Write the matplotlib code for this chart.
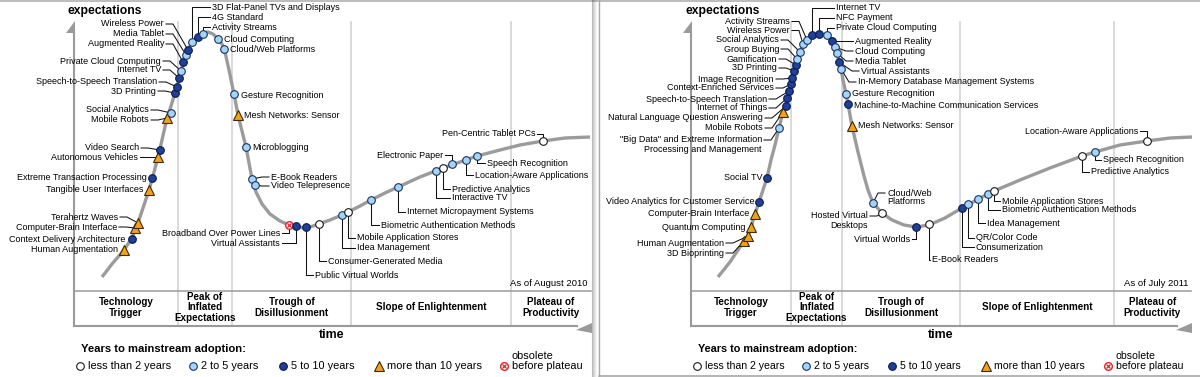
import matplotlib
matplotlib.use("Agg")
import matplotlib.pyplot as plt
from matplotlib.patches import Polygon

plt.rcParams['font.family'] = ['Liberation Sans', 'DejaVu Sans']

# ------------------------------------------------------------------ DATA
phase_names = ["Technology\nTrigger", "Peak of\nInflated\nExpectations",
               "Trough of\nDisillusionment", "Slope of Enlightenment",
               "Plateau of\nProductivity"]
legend_title = "Years to mainstream adoption:"
legend_labels = ["less than 2 years", "2 to 5 years", "5 to 10 years",
                 "more than 10 years", "before plateau"]
legend_cats = ['w', 'l', 'd', 't', 'x']

# ---- Hype Cycle 2010 (left)
h10_curve_x = [102, 112, 124, 132, 138, 144, 149, 153, 158, 162, 167, 171, 175, 179,
               183, 187, 192, 198, 203, 208, 213, 218, 222, 225, 229, 234, 238, 242,
               246, 249, 252, 256, 262, 270, 280, 289, 297, 306, 313, 319, 330, 342,
               348, 360, 371, 385, 398, 420, 443, 460, 477, 500, 520, 543, 565, 590]
h10_curve_y = [277, 264, 250, 238, 223, 205, 190, 176, 157, 140, 118, 106, 93, 79,
               64, 52, 42, 36, 33, 32, 34, 39, 44, 52, 70, 94, 115, 131,
               147, 163, 179, 192, 204, 214, 221, 225, 227, 228, 226, 224, 220, 215,
               212, 206, 200, 193, 187, 177, 168, 162, 156, 150, 145, 141, 138, 137]
h10_names = ["Human Augmentation", "Context Delivery Architecture", "Computer-Brain Interface",
             "Terahertz Waves", "Tangible User Interfaces", "Extreme Transaction Processing",
             "Autonomous Vehicles", "Video Search", "Mobile Robots", "Social Analytics",
             "3D Printing", "Speech-to-Speech Translation", "Internet TV",
             "Private Cloud Computing", "Augmented Reality", "Media Tablet", "Wireless Power",
             "3D Flat-Panel TVs and Displays", "4G Standard", "Activity Streams",
             "Cloud Computing", "Cloud/Web Platforms", "Gesture Recognition",
             "Mesh Networks: Sensor", "Microblogging", "E-Book Readers", "Video Telepresence",
             "Broadband Over Power Lines", "Virtual Assistants", "Public Virtual Worlds",
             "Consumer-Generated Media", "Idea Management", "Mobile Application Stores",
             "Biometric Authentication Methods", "Internet Micropayment Systems",
             "Interactive TV", "Predictive Analytics", "Electronic Paper",
             "Location-Aware Applications", "Speech Recognition", "Pen-Centric Tablet PCs"]
h10_x = [124, 132, 135, 138, 149, 152, 158, 160, 167, 171, 175, 177, 179, 181, 183, 186, 188,
         192, 198, 203, 218, 224, 234, 238, 246, 252, 255, 289, 296, 306, 319, 342, 348, 371,
         398, 436, 443, 452, 466, 477, 543]
h10_y = [250, 239, 228, 223, 190, 178, 157, 150, 118, 113, 93, 87, 78, 71, 62, 55, 50,
         42, 37, 34, 39, 49, 94, 115, 147, 179, 185, 225, 226, 227, 224, 215, 212, 200,
         187, 171, 168, 164, 160, 156, 141]
h10_cat = ['t', 'd', 't', 't', 't', 'd', 't', 'd', 't', 'l', 'd', 'd', 'd', 'l', 'd', 'l', 'd',
           'l', 'd', 'l', 'l', 'l', 'l', 't', 'l', 'l', 'l', 'x', 'd', 'd', 'w', 'l', 'w', 'l',
           'l', 'l', 'w', 'l', 'l', 'l', 'w']

# ---- Hype Cycle 2011 (right)
h11_curve_x = [718, 730, 744, 748, 751, 755, 759, 763, 767, 771, 775, 779, 783, 786, 787,
               789, 791, 792, 794, 796, 797, 800, 803, 807, 812, 819, 827, 832, 835, 837,
               839, 841, 843, 846, 848, 852, 858, 864, 868, 873, 882, 892, 904, 916, 929,
               945, 962, 968, 978, 988, 994, 1020, 1050, 1082, 1095, 1120, 1147, 1170, 1192]
h11_curve_y = [277, 262, 241, 236, 227, 214, 202, 190, 178, 160, 145, 128, 112, 104, 98,
               91, 84, 78, 71, 65, 59, 52, 45, 40, 36, 34, 35, 40, 47, 53,
               61, 69, 80, 94, 104, 126, 152, 176, 190, 203, 213, 220, 225, 227, 225,
               218, 208, 205, 199, 194, 191, 180, 168, 156, 152, 145, 141, 138, 137]
h11_names = ["3D Bioprinting", "Human Augmentation", "Quantum Computing",
             "Computer-Brain Interface", "Video Analytics for Customer Service", "Social TV",
             "\"Big Data\" and Extreme Information\nProcessing and Management", "Mobile Robots",
             "Natural Language Question Answering", "Internet of Things",
             "Speech-to-Speech Translation", "Context-Enriched Services", "Image Recognition",
             "3D Printing", "Gamification", "Group Buying", "Social Analytics", "Wireless Power",
             "Activity Streams", "Internet TV", "NFC Payment", "Private Cloud Computing",
             "Augmented Reality", "Cloud Computing", "Media Tablet", "Virtual Assistants",
             "In-Memory Database Management Systems", "Gesture Recognition",
             "Machine-to-Machine Communication Services", "Mesh Networks: Sensor",
             "Cloud/Web\nPlatforms", "Hosted Virtual\nDesktops", "Virtual Worlds",
             "E-Book Readers", "Consumerization", "QR/Color Code", "Idea Management",
             "Biometric Authentication Methods", "Mobile Application Stores",
             "Predictive Analytics", "Speech Recognition", "Location-Aware Applications"]
h11_x = [744, 748, 751, 755, 759, 767, 779, 783, 786, 787, 789, 791, 792, 794, 796, 797, 800,
         803, 807, 812, 819, 827, 832, 835, 837, 839, 841, 846, 848, 852, 873, 882, 916, 929,
         962, 968, 978, 988, 994, 1082, 1095, 1147]
h11_y = [241, 236, 227, 214, 202, 178, 128, 112, 106, 98, 91, 84, 78, 71, 65, 59, 52,
         44, 40, 35, 34, 35, 41, 47, 53, 62, 69, 94, 104, 126, 203, 213, 227, 224,
         208, 204, 199, 194, 191, 156, 152, 141]
h11_cat = ['t', 't', 't', 't', 'd', 'd', 'l', 't', 'd', 'd', 'd', 'd', 'd', 'd', 'd', 'l', 'l',
           'l', 'l', 'd', 'd', 'l', 'd', 'l', 'l', 'd', 'l', 'l', 'd', 't', 'l', 'w', 'd', 'w',
           'd', 'l', 'l', 'l', 'w', 'w', 'l', 'w']

# ------------------------------------------------------------------ LAYOUT (label anchors)
h10_lx = [118, 125, 117, 118, 143, 147, 138, 139, 149, 149, 156, 157, 161, 161, 164, 164, 164,
          212, 212, 212, 224, 230, 241, 244, 252, 271, 271, 280, 280, 315, 328, 357, 357, 381,
          407, 452, 452, 443, 475, 487, 535]
h10_ly = [250, 240, 227, 217, 190, 178, 157, 148, 120, 110, 91, 82, 70, 61, 44, 34, 24,
          7, 17, 27, 39, 49, 95, 115, 148, 177, 186, 233, 243, 275, 261, 248, 238, 225,
          212, 198, 189, 155, 175, 163, 134]
h10_ha = ['r'] * 17 + ['l'] * 10 + ['r', 'r'] + ['l'] * 8 + ['r', 'l', 'l', 'r']
h10_lead = ['n', 'n', 'g', 'g', 'n', 'n', 'g', 'g', 'g', 'g', 'g', 'g', 'g', 'g', 'g', 'g', 'g',
            'v', 'v', 'v', 'n', 'n', 'n', 'n', 'n', 'g', 'g', 'v', 'v', 'v', 'v', 'v', 'v', 'v',
            'v', 'v', 'v', 'v', 'v', 'v', 'v']

h11_lx = [724, 724, 745, 749, 754, 762, 762, 763, 763, 767, 767, 774, 774, 777, 777, 779, 779,
          790, 790, 836, 836, 836, 855, 855, 855, 861, 858, 852, 854, 858, 887, 868, 910, 932,
          976, 976, 987, 1002, 1002, 1091, 1103, 1138]
h11_ly = [253, 243, 227, 214, 202, 178, 140, 128, 118, 108, 99, 88, 79, 68, 59, 49, 40,
          30.5, 21.5, 8, 18, 28, 41, 51, 61, 71, 82, 94, 105, 125, 193, 216, 239, 260,
          247, 238, 223, 210, 201, 172, 160, 131]
h11_ha = ['r'] * 19 + ['l'] * 12 + ['r', 'r'] + ['l'] * 8 + ['r']
h11_lead = ['g', 'g', 'n', 'n', 'n', 'n', 'g', 'g', 'g', 'g', 'g', 'g', 'g', 'g', 'g', 'g', 'g',
            'g', 'g', 'v', 'v', 'v', 'g', 'g', 'g', 'g', 'g', 'n', 'n', 'n', 'g', 'g', 'v', 'v',
            'v', 'v', 'v', 'v', 'v', 'v', 'v', 'v']

STYLE = {
    'w': dict(marker='o', ms=5.5, mfc='white', mec='#1a1a1a', mew=0.8),
    'l': dict(marker='o', ms=5.5, mfc='#a3d5f7', mec='#1d3263', mew=0.8),
    'd': dict(marker='o', ms=5.5, mfc='#1f3f98', mec='#0b1a4a', mew=0.8),
    't': dict(marker='^', ms=6.9, mfc='#f6a015', mec='#3b2b05', mew=0.8),
    'x': dict(marker='o', ms=5.5, mfc='white', mec='#e8242a', mew=1.0),
}
FS = 6.5
GRAY = '#9a9a9a'


def draw_marker(ax, x, y, cat, z=5):
    ax.plot([x], [y], ls='none', zorder=z, **STYLE[cat])
    if cat == 'x':
        ax.plot([x], [y], ls='none', marker='x', ms=3.2, mec='#e8242a', mew=0.9, zorder=z + 0.1)


def draw_panel(ax, cx, cy, names, xs, ys, cats, lx, ly, ha, lead,
               axis_x, dividers, box_r, as_of, leg_offs, leg_fs):
    top_y, box_t, box_b = 22, 291, 326
    # phase dividers
    for d in dividers:
        ax.plot([d, d], [top_y, box_b], color='#cfcfcf', lw=1.1, zorder=1)
    # y axis + arrow
    ax.plot([axis_x, axis_x], [32, box_b], color=GRAY, lw=1.5, zorder=2)
    ax.add_patch(Polygon([[axis_x - 8, 33], [axis_x + 1, 21], [axis_x + 1, 33]],
                         closed=True, color=GRAY, zorder=2, lw=0))
    ax.text(axis_x - 6, 11, "expectations", fontsize=8.7, fontweight='bold',
            ha='left', va='center', zorder=6)
    # phase box
    ax.plot([axis_x, box_r], [box_t, box_t], color=GRAY, lw=1.1, zorder=2)
    ax.plot([axis_x, box_r - 14], [box_b, box_b], color=GRAY, lw=1.5, zorder=2)
    ax.add_patch(Polygon([[box_r - 15, 330], [box_r + 1, 323], [box_r + 1, 333]],
                         closed=True, color=GRAY, zorder=2, lw=0))
    edges = [axis_x] + list(dividers) + [box_r]
    for i, p in enumerate(phase_names):
        xc = (edges[i] + edges[i + 1]) / 2
        ax.text(xc, 307.5, p, fontsize=7.1, fontweight='bold', ha='center', va='center',
                linespacing=1.02, zorder=6)
    ax.text((axis_x + box_r) / 2 - 0.5, 334.5, "time", fontsize=8.9, fontweight='bold',
            ha='center', va='center', zorder=6)
    ax.text(box_r - 3, 283, as_of, fontsize=6.8, ha='right', va='center', zorder=6)
    # legend
    ax.text(axis_x + 7, 349, legend_title, fontsize=leg_fs + 0.2, fontweight='bold',
            ha='left', va='center', zorder=6)
    for k, (lab, c) in enumerate(zip(legend_labels, legend_cats)):
        mx = axis_x + 6 + leg_offs[k]
        draw_marker(ax, mx, 366, c)
        ax.text(mx + 8, 366, lab, fontsize=leg_fs, ha='left', va='center', zorder=6)
        if c == 'x':
            ax.text(mx + 8, 356, "obsolete", fontsize=leg_fs, ha='left', va='center', zorder=6)
    # curve
    ax.plot(cx, cy, color='#9b9b9b', lw=2.4, solid_joinstyle='round',
            solid_capstyle='butt', zorder=3)
    # items
    for n, x, y, c, tx, ty, h, ld in zip(names, xs, ys, cats, lx, ly, ha, lead):
        sgn = 1 if h == 'r' else -1
        if ld == 'g':
            ax.plot([tx + 2 * sgn, tx + 9 * sgn, x], [ty, ty, y], color='#111111',
                    lw=0.75, zorder=4)
        elif ld == 'v':
            ax.plot([x, x, tx + 2 * sgn], [y, ty, ty], color='#111111', lw=0.75, zorder=4)
        draw_marker(ax, x, y, c)
        for i, line in enumerate(n.split('\n')):
            ax.text(tx, ty + i * 9, line, fontsize=FS, ha='right' if h == 'r' else 'left',
                    va='center', zorder=6)


fig = plt.figure(figsize=(12, 3.77), dpi=100)
ax = fig.add_axes([0, 0, 1, 1])
ax.set_xlim(0, 1200)
ax.set_ylim(377, 0)
ax.axis('off')

# panel frames
ax.plot([0, 1200], [0.6, 0.6], color='#b0b0b0', lw=1.2, zorder=1)
for i, a in enumerate([0.25, 0.18, 0.12, 0.07, 0.04]):
    ax.plot([592 + i, 592 + i], [0, 377], color='black', alpha=a, lw=0.8, zorder=1)
ax.plot([598.5, 598.5], [0, 377], color='#a8a8a8', lw=1.0, zorder=1)
ax.plot([598.5, 1200], [375.5, 375.5], color='#a8a8a8', lw=1.2, zorder=1)

draw_panel(ax, h10_curve_x, h10_curve_y, h10_names, h10_x, h10_y, h10_cat,
           h10_lx, h10_ly, h10_ha, h10_lead,
           74, [178, 232, 351, 511], 591, "As of August 2010",
           [0, 113, 203, 299, 424], 7.9)
draw_panel(ax, h11_curve_x, h11_curve_y, h11_names, h11_x, h11_y, h11_cat,
           h11_lx, h11_ly, h11_ha, h11_lead,
           691, [791, 842, 960, 1114], 1191, "As of July 2011",
           [0, 109, 195, 289, 411], 7.6)

fig.savefig("out.png", dpi=100)
